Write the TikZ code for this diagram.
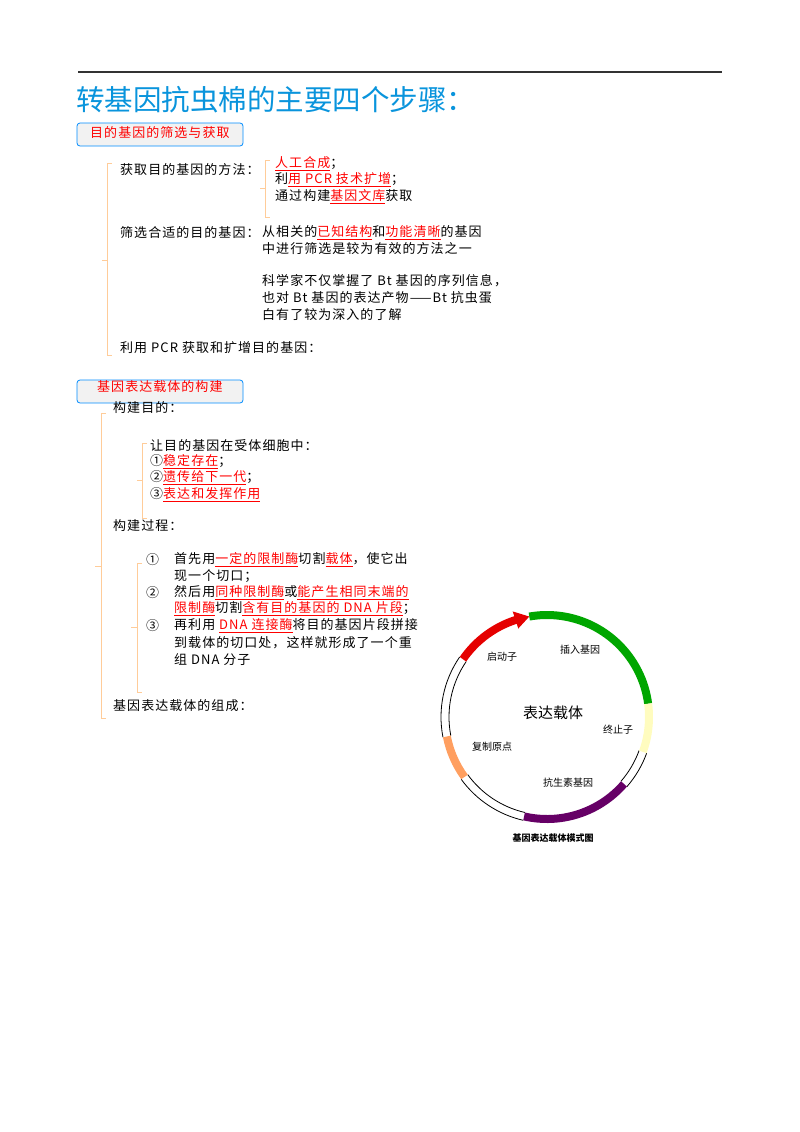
\documentclass[tikz,border=0pt]{standalone}
\usepackage{fontspec}
\setmainfont[LetterSpace=8]{Noto Sans CJK SC}
\newfontfamily\ttlfont{Noto Sans CJK SC}
\begin{document}
\begin{tikzpicture}[x=1pt,y=-1pt,
  t/.style={anchor=west,inner sep=0pt,font=\fontsize{13}{15}\selectfont},
  br/.style={draw=orange!40,line width=0.7pt},
  box/.style={draw=blue!45!cyan,fill=gray!10,rounded corners=3pt,line width=0.8pt},
  lab/.style={inner sep=0pt,font=\ttlfont\fontsize{10}{12}\selectfont}]
\newcommand{\hl}[1]{\textcolor{red}{\underline{#1}}}
\useasboundingbox (0,0) rectangle (800,1132);
\draw[line width=1.5pt,black!80] (78,72) -- (722,72);
\node[anchor=west,inner sep=0pt,text=cyan!80!blue,font=\ttlfont\fontsize{28.5}{30}\selectfont] (title) at (76,100) {转基因抗虫棉的主要四个步骤：};
% section 1
\draw[box] (77,123) rectangle (243,146);
\node[t,text=red] (s1) at (90,133) {目的基因的筛选与获取};
\draw[br] (112,163) -- (107,163) -- (107,355) -- (112,355) (107,260) -- (102,260);
\node[t] (a1) at (120,170) {获取目的基因的方法：};
\draw[br] (270,160) -- (265,160) -- (265,217) -- (270,217) (265,188) -- (260,188);
\node[t] (a2) at (275,164) {\hl{人工合成}；};
\node[t] (a3) at (275,180) {利\hl{用 PCR 技术扩增}；};
\node[t] (a4) at (275,197) {通过构建\hl{基因文库}获取};
\node[t] (b1) at (120,233) {筛选合适的目的基因：};
\node[t] (b2) at (262,233) {从相关的\hl{已知结构}和\hl{功能清晰}的基因};
\node[t] (b3) at (262,249) {中进行筛选是较为有效的方法之一};
\node[t] (c1) at (262,281) {科学家不仅掌握了 Bt 基因的序列信息，};
\node[t] (c2) at (262,298) {也对 Bt 基因的表达产物——Bt 抗虫蛋};
\node[t] (c3) at (262,315) {白有了较为深入的了解};
\node[t] (d1) at (120,348) {利用 PCR 获取和扩增目的基因：};
% section 2
\draw[box] (77,380) rectangle (243,403);
\node[t,text=red] (s2) at (97,387) {基因表达载体的构建};
\node[t] (e1) at (113,408) {构建目的：};
\draw[br] (106,413) -- (101,413) -- (101,718) -- (106,718) (101,566) -- (95,566);
\draw[br] (147,443) -- (142,443) -- (142,518) -- (147,518) (142,480) -- (137,480);
\node[t] (f1) at (150,446) {让目的基因在受体细胞中：};
\node[t] (f2) at (150,462) {①\hl{稳定存在}；};
\node[t] (f3) at (150,478) {②\hl{遗传给下一代}；};
\node[t] (f4) at (150,495) {③\hl{表达和发挥作用}};
\node[t] (g1) at (113,526) {构建过程：};
\draw[br] (142,563) -- (137,563) -- (137,692) -- (142,692) (137,627) -- (131,627);
\node[t] (n1) at (146,560) {①};
\node[t] (n2) at (146,593) {②};
\node[t] (n3) at (146,626) {③};
\node[t] (h1) at (174,560) {首先用\hl{一定的限制酶}切割\hl{载体}，使它出};
\node[t] (h2) at (174,576) {现一个切口；};
\node[t] (h3) at (174,593) {然后用\hl{同种限制酶}或\hl{能产生相同末端的}};
\node[t] (h4) at (174,609) {\hl{限制酶}切割\hl{含有目的基因的 DNA 片段}；};
\node[t] (h5) at (174,626) {再利用 \hl{DNA 连接酶}将目的基因片段拼接};
\node[t] (h6) at (174,643) {到载体的切口处，这样就形成了一个重};
\node[t] (h7) at (174,660) {组 DNA 分子};
\node[t] (k1) at (113,706) {基因表达载体的组成：};
% plasmid
\begin{scope}[shift={(547,717)},yscale=-1]
\def\R{102}
\foreach \a/\b in {-41/-20,-144/-103,145.5/191}{
  \draw[line width=0.8pt] (\a:{\R+4}) arc[start angle=\a,end angle=\b,radius={\R+4}];
  \draw[line width=0.8pt] (\a:{\R-4}) arc[start angle=\a,end angle=\b,radius={\R-4}];
}
\draw[line width=8pt,green!65!black] (7.5:\R) arc[start angle=7.5,end angle=100,radius=\R];
\draw[line width=8pt,yellow!25] (-20:\R) arc[start angle=-20,end angle=7.5,radius=\R];
\draw[line width=8pt,violet!80!black] (-103:\R) arc[start angle=-103,end angle=-41,radius=\R];
\draw[line width=8pt,orange!50!pink] (191:\R) arc[start angle=191,end angle=216,radius=\R];
\draw[line width=8pt,red!90!black] (145.5:\R) arc[start angle=145.5,end angle=106,radius=\R];
\fill[red!90!black] (108:{\R+9}) -- (100:\R) -- (108:{\R-9}) -- cycle;
\end{scope}
\node[lab] (p1) at (502,657) {启动子};
\node[lab] (p2) at (580,650) {插入基因};
\node[inner sep=0pt,font=\ttlfont\fontsize{15}{17}\selectfont] (p0) at (553,713) {表达载体};
\node[lab] (p3) at (618,730) {终止子};
\node[lab] (p4) at (492,747) {复制原点};
\node[lab] (p5) at (568,783) {抗生素基因};
\node[inner sep=0pt,font=\ttlfont\fontsize{9}{11}\selectfont\bfseries] (cap) at (553,838) {基因表达载体模式图};
\end{tikzpicture}
\end{document}
